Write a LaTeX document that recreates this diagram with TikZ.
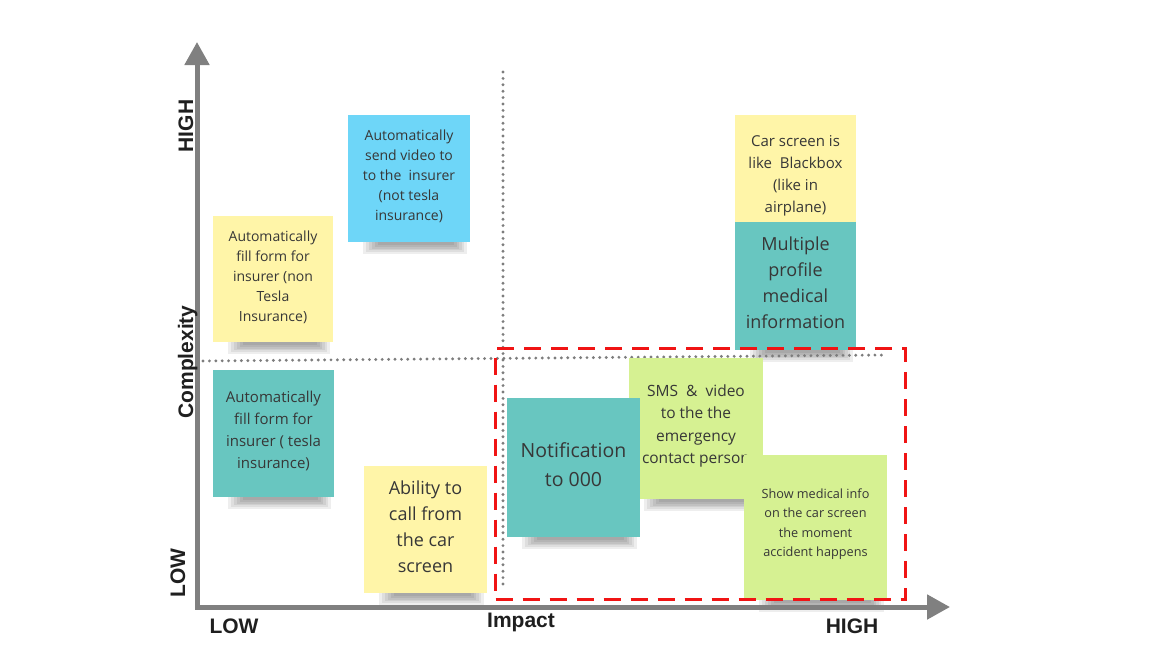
\documentclass[tikz,border=0pt]{standalone}
\usepackage{fontspec}
\setmainfont{Open Sans}
\newfontfamily\axisfont{Liberation Sans}
\usetikzlibrary{arrows.meta,backgrounds}
\pgfdeclarelayer{bottomlayer}
\pgfsetlayers{bottomlayer,background,main}
\definecolor{notey}{RGB}{255,245,168}
\definecolor{noteb}{RGB}{110,214,248}
\definecolor{notet}{RGB}{104,198,192}
\definecolor{noteg}{RGB}{214,241,146}
\definecolor{axisgray}{RGB}{128,128,128}
\definecolor{txtgray}{RGB}{55,55,55}
\definecolor{dotgray}{RGB}{125,125,125}
\definecolor{boxred}{RGB}{240,20,20}
\tikzset{
  sticky/.style={draw=none, inner sep=0pt, anchor=north west},
  notetext/.style={align=center, text=txtgray, inner sep=0pt},
  axisline/.style={draw=axisgray, line width=5pt, -{Triangle[length=23pt,width=24pt]}},
  axislabel/.style={font=\axisfont\bfseries\fontsize{21}{24}\selectfont, text=black!88, inner sep=0pt, anchor=base},
  dotline/.style={draw=dotgray, line width=3.2pt, line cap=round, dash pattern=on 0pt off 6.4pt},
  focusbox/.style={draw=boxred, line width=3pt, dash pattern=on 17pt off 10pt},
  shadowstrip/.style={fill=black, opacity=0.065},
}
\begin{document}
\begin{tikzpicture}[x=1pt,y=-1pt]
\begin{pgfonlayer}{bottomlayer}
\fill[white] (0,0) rectangle (1172,667);
\end{pgfonlayer}
\useasboundingbox (0,0) rectangle (1172,667);

% axes
\coordinate (origin) at (197,609.5);
\coordinate (ytip) at (197,42);
\coordinate (xorigin) at (195,607);
\coordinate (xtip) at (950,607);
\draw[axisline] (origin) -- (ytip);
\draw[axisline] (xorigin) -- (xtip);

% axis labels
\node[axislabel, rotate=90] (yhigh) at (193,126) {HIGH};
\node[axislabel, rotate=90] (ylabel) at (193,362) {Complexity};
\node[axislabel, rotate=90] (ylow) at (185,573) {LOW};
\node[axislabel] (xlow) at (234,633) {LOW};
\node[axislabel] (xlabel) at (521,627) {Impact};
\node[axislabel] (xhigh) at (852,633) {HIGH};

% quadrant lines
\coordinate (vtop) at (503,72);
\coordinate (vbot) at (503,588);
\coordinate (hleft) at (203,361);
\coordinate (hright) at (885,355);
\draw[dotline] (vtop) -- (vbot);
\draw[dotline] (hleft) -- (hright);

% notes
\node[sticky, fill=notey, minimum width=120pt, minimum height=126pt] (n1) at (213,216) {};
\node[notetext, font=\fontsize{14}{20}\selectfont] (t1) at (273,277) {Automatically\\fill form for\\insurer (non\\Tesla\\Insurance)};

\node[sticky, fill=noteb, minimum width=122pt, minimum height=127pt] (n2) at (348,115) {};
\node[notetext, font=\fontsize{14}{20}\selectfont] (t2) at (409,176) {Automatically\\send video to\\to the~~insurer\\(not tesla\\insurance)};

\node[sticky, fill=notet, minimum width=121pt, minimum height=127pt] (n3) at (213,370) {};
\node[notetext, font=\fontsize{15}{22}\selectfont] (t3) at (273.5,431) {Automatically\\fill form for\\insurer ( tesla\\insurance)};

\node[sticky, fill=notey, minimum width=123pt, minimum height=127pt] (n4) at (364,466) {};
\node[notetext, font=\fontsize{18}{26}\selectfont] (t4) at (425.5,527) {Ability to\\call from\\the car\\screen};

\node[sticky, fill=notey, minimum width=121pt, minimum height=108pt] (n5) at (735,115) {};
\node[notetext, font=\fontsize{15}{22}\selectfont] (t5) at (795.5,176) {Car screen is\\like~~Blackbox\\(like in\\airplane)};

\node[sticky, fill=notet, minimum width=121pt, minimum height=128pt] (n6) at (735,222) {};
\node[notetext, font=\fontsize{18}{26}\selectfont] (t6) at (795.5,283) {Multiple\\profile\\medical\\information};

\node[sticky, fill=noteg, minimum width=134pt, minimum height=141pt] (n8) at (629,358) {};
\node[notetext, font=\fontsize{15.5}{22.5}\selectfont] (t8) at (696,426) {SMS~~\&~~video\\to the the\\emergency\\contact person};

\node[sticky, fill=notet, minimum width=133pt, minimum height=139pt] (n7) at (507,398) {};
\node[notetext, font=\fontsize{19.5}{29}\selectfont] (t7) at (573.5,465) {Notification\\to 000};

\node[sticky, fill=noteg, minimum width=143pt, minimum height=145pt] (n9) at (744,455) {};
\node[notetext, font=\fontsize{12.7}{19.4}\selectfont] (t9) at (815.5,524) {Show medical info\\on the car screen\\the moment\\accident happens};

% soft shadows
\begin{pgfonlayer}{background}
\foreach \n in {n1,n2,n3,n4,n6,n7,n8,n9}
  \foreach \k in {1,...,6}
    \fill[shadowstrip] ([xshift={12pt+\k*3pt}]\n.south west) rectangle ([xshift={-1pt-\k*2.5pt},yshift={-13pt+\k*1.7pt}]\n.south east);
\end{pgfonlayer}

% focus area
\node[focusbox, inner sep=0pt, minimum width=410pt, minimum height=251pt, anchor=north west] (focus) at (494,347) {};
\end{tikzpicture}
\end{document}
